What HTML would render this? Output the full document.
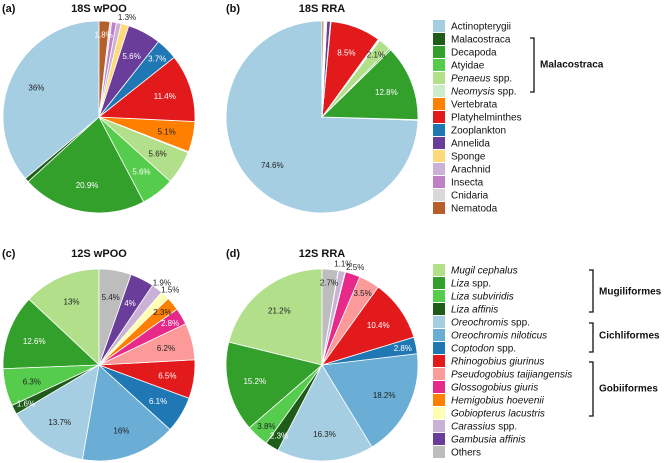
<!DOCTYPE html>
<html><head><meta charset="utf-8"><style>
html,body{margin:0;padding:0;background:#fff;}
svg{display:block;font-family:"Liberation Sans",sans-serif;}
</style></head><body>
<svg id="chart" width="668" height="463" viewBox="0 0 668 463">
<g id="pies"></g>
<g id="legend1"></g>
<g id="legend2"></g>
</svg>
<script>
// 18S categories and colors
const cats18 = ["Actinopterygii","Malacostraca","Decapoda","Atyidae","Penaeus spp.","Neomysis spp.","Vertebrata","Platyhelminthes","Zooplankton","Annelida","Sponge","Arachnid","Insecta","Cnidaria","Nematoda"];
const italic18 = ["","","","","Penaeus","Neomysis","","","","","","","","",""];
const colors18 = ["#a6cee3","#1f5c1a","#33a02c","#55cc4c","#b2df8a","#cdeccb","#ff7f00","#e31a1c","#1f78b4","#6a3d9a","#ffd97a","#cab2d6","#c080c8","#d9d9d9","#b5602a"];
const txt18 = ["#222","#fff","#fff","#fff","#222","#222","#222","#fff","#fff","#fff","#222","#222","#222","#222","#fff"];
// values
const valsA = [36,0.7,20.9,5.6,5.6,0.2,5.1,11.4,3.7,5.6,1.3,0.8,0.8,0.3,1.8];
const labsA = ["36%","","20.9%","5.6%","5.6%","","5.1%","11.4%","3.7%","5.6%","1.3%","","","","1.8%"];
const valsB = [74.6,0.1,12.8,0.3,2.1,0.2,0.1,8.5,0.1,0.6,0.2,0.1,0.1,0.1,0.3];
const labsB = ["74.6%","","12.8%","","2.1%","","","8.5%","","","","","","",""];
// 12S categories
const cats12 = ["Mugil cephalus","Liza spp.","Liza subviridis","Liza affinis","Oreochromis spp.","Oreochromis niloticus","Coptodon spp.","Rhinogobius giurinus","Pseudogobius taijiangensis","Glossogobius giuris","Hemigobius hoevenii","Gobiopterus lacustris","Carassius spp.","Gambusia affinis","Others"];
const italic12 = ["Mugil cephalus","Liza","Liza subviridis","Liza affinis","Oreochromis","Oreochromis niloticus","Coptodon","Rhinogobius giurinus","Pseudogobius taijiangensis","Glossogobius giuris","Hemigobius hoevenii","Gobiopterus lacustris","Carassius","Gambusia affinis",""];
const colors12 = ["#b2df8a","#33a02c","#55cc4c","#1f5c1a","#a6cee3","#6aaed6","#1f78b4","#e31a1c","#fb9a99","#e7298a","#ff7f00","#ffffb3","#cab2d6","#6a3d9a","#bdbdbd"];
const txt12 = ["#222","#fff","#222","#fff","#222","#222","#fff","#fff","#222","#fff","#222","#222","#222","#fff","#222"];
const valsC = [13,12.6,6.3,1.6,13.7,16,6.1,6.5,6.2,2.8,2.3,1.5,1.9,4,5.4];
const labsC = ["13%","12.6%","6.3%","1.6%","13.7%","16%","6.1%","6.5%","6.2%","2.8%","2.3%","1.5%","1.9%","4%","5.4%"];
const valsD = [21.2,15.2,3.8,2.3,16.3,18.2,2.8,10.4,3.5,2.5,0.05,0.05,1.1,0.05,2.7];
const labsD = ["21.2%","15.2%","3.8%","2.3%","16.3%","18.2%","2.8%","10.4%","3.5%","2.5%","","","1.1%","","2.7%"];
const titles = ["18S wPOO","18S RRA","12S wPOO","12S RRA"];
const letters = ["(a)","(b)","(c)","(d)"];

const NS="http://www.w3.org/2000/svg";
function mk(tag,attrs,parent){const e=document.createElementNS(NS,tag);for(const k in attrs)e.setAttribute(k,attrs[k]);parent.appendChild(e);return e;}
function pt(cx,cy,r,t){return [cx-r*Math.sin(t),cy-r*Math.cos(t)];}

const pies=document.getElementById('pies');
const specs=[
 {cx:99,cy:117,vals:valsA,labs:labsA,cols:colors18,tc:txt18,name:'pie-18s-wpoo',lx:2,ly:12,tx:99},
 {cx:322,cy:117,vals:valsB,labs:labsB,cols:colors18,tc:txt18,name:'pie-18s-rra',lx:226,ly:12,tx:322},
 {cx:99,cy:365,vals:valsC,labs:labsC,cols:colors12,tc:txt12,name:'pie-12s-wpoo',lx:2,ly:257,tx:99},
 {cx:322,cy:365,vals:valsD,labs:labsD,cols:colors12,tc:txt12,name:'pie-12s-rra',lx:226,ly:257,tx:322}
];
const R=96;
specs.forEach((s,pi)=>{
  const g=mk('g',{},pies);
  
  
  const lt=mk('text',{x:s.lx,y:s.ly,'font-size':11,'font-weight':'bold',fill:'#111'},g);
  lt.textContent=letters[pi];
  
  
  const tt=mk('text',{x:s.tx,y:s.ly,'font-size':11,'font-weight':'bold','text-anchor':'middle',fill:'#111'},g);
  tt.textContent=titles[pi];
  
  
  const tot=s.vals.reduce((a,b)=>a+b,0);
  let a0=0;
  s.vals.forEach((v,i)=>{
    const da=v/tot*2*Math.PI, a1=a0+da;
    const p0=pt(s.cx,s.cy,R,a0), p1=pt(s.cx,s.cy,R,a1);
    const large=da>Math.PI?1:0;
    const path=mk('path',{d:`M${s.cx},${s.cy}L${p0[0]},${p0[1]}A${R},${R} 0 ${large} 0 ${p1[0]},${p1[1]}Z`,fill:s.cols[i],stroke:'#fff','stroke-width':0.8},g);
    
    
    a0=a1;
  });
  a0=0;
  s.vals.forEach((v,i)=>{
    const pct=v/tot*100, mid=a0+v/tot*Math.PI;
    a0+=v/tot*2*Math.PI;
    if(!s.labs[i])return;
    let rf=0.72, col=s.tc[i];
    if(pct<1.6){rf=1.08;col='#222';}
    else if(pct<2.6 && (s.labs[i]==='1.9%'||s.labs[i]==='2.5%')){rf=1.08;col='#222';}
    else if(pct<4){rf=0.86;}
    const p=pt(s.cx,s.cy,R*rf,mid);
    const t=mk('text',{x:p[0],y:p[1]+3,'font-size':8,'text-anchor':'middle',fill:col},g);
    t.textContent=s.labs[i];
    
    
  });
});

function legend(gid,cats,ital,cols,y0){
  const g=document.getElementById(gid);
  cats.forEach((c,i)=>{
    const y=y0+i*13;
    const r=mk('rect',{x:433,y:y-6,width:12,height:12,fill:cols[i]},g);
    
    
    const t=mk('text',{x:451,y:y+3.5,'font-size':10,fill:'#111'},g);
    
    
    const it=ital[i];
    if(it && c.startsWith(it)){
      const a=mk('tspan',{'font-style':'italic'},t);a.textContent=it;
      const rest=c.slice(it.length);
      if(rest){const b=mk('tspan',{},t);b.textContent=rest;}
    } else t.textContent=c;
  });
}
legend('legend1',cats18,italic18,colors18,26);
legend('legend2',cats12,italic12,colors12,270);

function bracket(gid,x,y1,y2,label,ly,name){
  const g=document.getElementById(gid);
  const p=mk('path',{d:`M${x-4},${y1}H${x}V${y2}H${x-4}`,fill:'none',stroke:'#111','stroke-width':1.3},g);
  
  
  const t=mk('text',{x:x+6,y:ly+3.5,'font-size':10,'font-weight':'bold',fill:'#111'},g);
  t.textContent=label;
  
  
}
bracket('legend1',534,38,92,'Malacostraca',64,'malacostraca');
bracket('legend2',593,270,312,'Mugiliformes',291,'mugiliformes');
bracket('legend2',593,323,352,'Cichliformes',335,'cichliformes');
bracket('legend2',593,362,416,'Gobiiformes',388,'gobiiformes');
</script>
</body></html>
